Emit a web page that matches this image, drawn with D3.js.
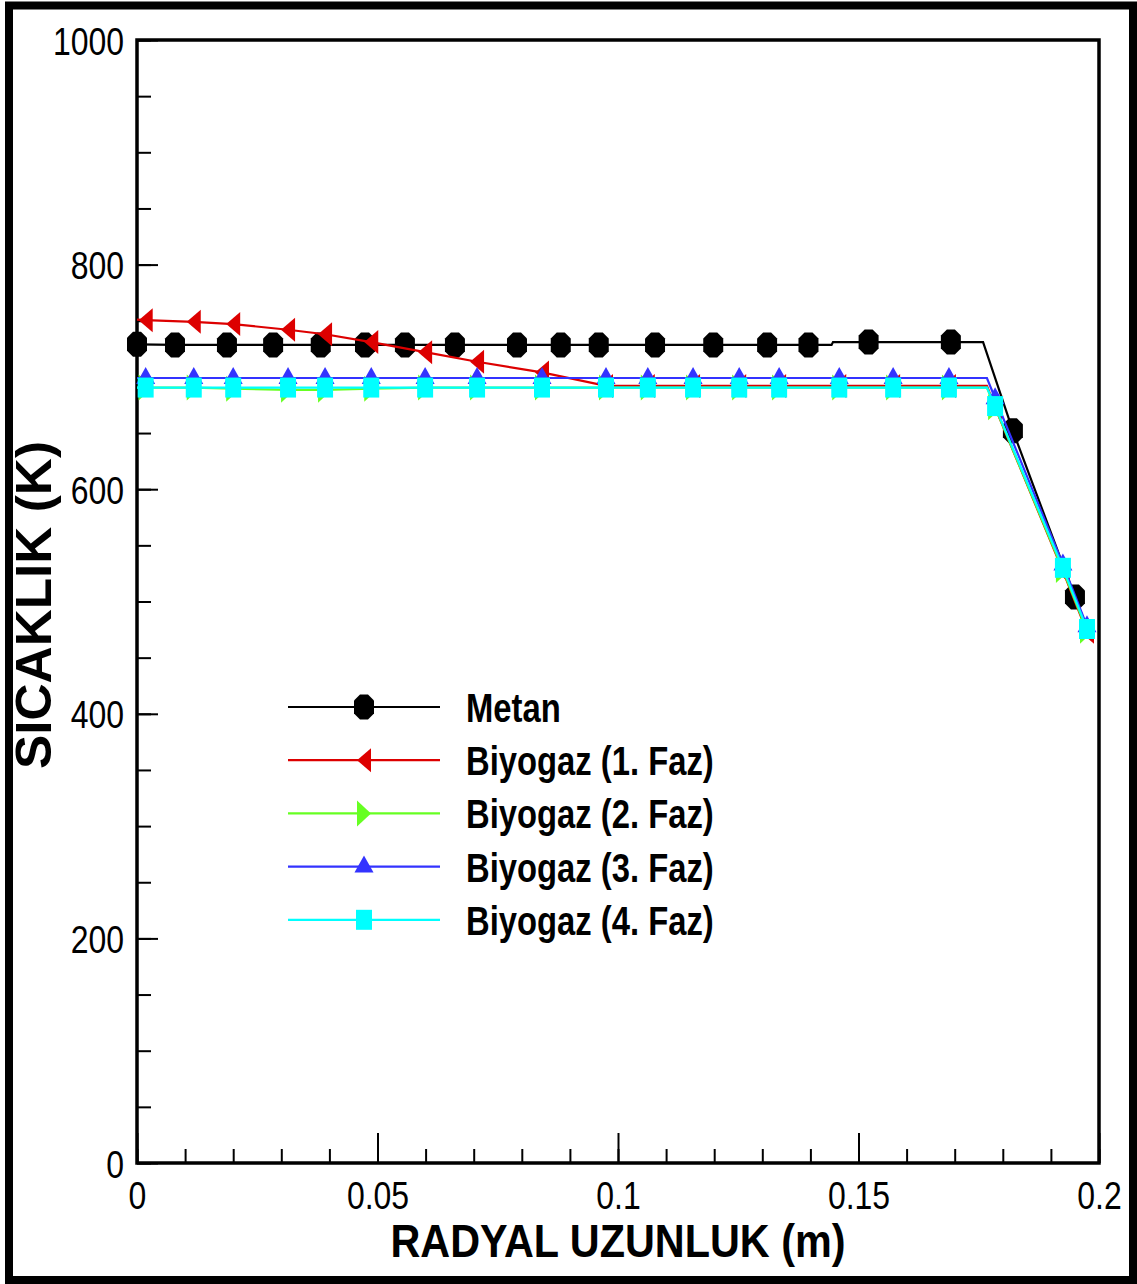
<!DOCTYPE html>
<meta charset="utf-8">
<style>
body { margin: 0; background: #fff; }
.tick text { font-family: "Liberation Sans", Arial, sans-serif; font-size: 39px; fill: #000; }
.tick line { stroke: #000; stroke-width: 2px; }
.legend text { font-family: "Liberation Sans", Arial, sans-serif; font-weight: bold; font-size: 40px; }
.title { font-family: "Liberation Sans", Arial, sans-serif; font-weight: bold; fill: #000; }
</style>
<body>
<script src="https://d3js.org/d3.v7.min.js"></script>
<script>

const width = 1137;
const height = 1284;
const narrow = 0.82; // Tecplot uses a narrow helvetica

// radial position of the biogas samples (m); 0 = line only, 1 = marker shown
const bx    = [0, 0.0018, 0.0118, 0.0200, 0.0314, 0.0391, 0.0487, 0.0599, 0.0707, 0.0842, 0.0975,
               0.1062, 0.1156, 0.1252, 0.1335, 0.1460, 0.1572, 0.1688, 0.1767, 0.1784, 0.1925, 0.1975];
const bMark = [0, 1, 1, 1, 1, 1, 1, 1, 1, 1, 1, 1, 1, 1, 1, 1, 1, 1, 0, 1, 1, 1];

const faz1 = [751, 750.5, 749, 747, 742, 738, 731, 722, 713.5, 704, 692,
              692, 692, 692, 692, 692, 692, 692, 692, 673, 527, 473];
const faz2 = [690.5, 690.5, 690.5, 689.5, 688.5, 688.5, 689.5, 690.5, 690.5, 690.5, 690.5,
              690.5, 690.5, 690.5, 690.5, 690.5, 690.5, 690.5, 690.5, 673, 528, 474];
const faz3 = [699, 699, 699, 699, 699, 699, 699, 699, 699, 699, 699,
              699, 699, 699, 699, 699, 699, 699, 699, 681, 533, 478];
const faz4 = [690.5, 690.5, 690.5, 690.5, 690.5, 690.5, 690.5, 690.5, 690.5, 690.5, 690.5,
              690.5, 690.5, 690.5, 690.5, 690.5, 690.5, 690.5, 690.5, 674, 530, 475.5];

// methane
const mx    = [0, 0.0079, 0.0187, 0.0283, 0.0382, 0.0474, 0.0557, 0.0661, 0.0790, 0.0881, 0.0960,
               0.1077, 0.1198, 0.1310, 0.1396, 0.1444, 0.1447, 0.1521, 0.1692, 0.1759, 0.1821, 0.1950, 0.1977];
const metan = [729, 728.5, 728.5, 728.5, 728.5, 728.5, 728.5, 728.5, 728.5, 728.5, 728.5,
               728.5, 728.5, 728.5, 728.5, 728.5, 731, 731, 731, 731, 652, 504, 474];
const mMark = [1, 1, 1, 1, 1, 1, 1, 1, 1, 1, 1, 1, 1, 1, 1, 0, 0, 1, 1, 0, 1, 1, 0];

const names  = ["Metan", "Biyogaz (1. Faz)", "Biyogaz (2. Faz)", "Biyogaz (3. Faz)", "Biyogaz (4. Faz)"];
const colors = ["#000000", "#dd0000", "#66ff22", "#3333ff", "#00ffff"];
const shapes = ["circle", "left", "right", "up", "square"];

const xTicks = [0, 0.05, 0.1, 0.15, 0.2];
const yTicks = [0, 200, 400, 600, 800, 1000];

const series = [
  { x: mx, y: metan, mark: mMark },
  { x: bx, y: faz1, mark: bMark },
  { x: bx, y: faz2, mark: bMark },
  { x: bx, y: faz3, mark: bMark },
  { x: bx, y: faz4, mark: bMark }
].map((s, i) => ({
  name: names[i], color: colors[i], shape: shapes[i],
  points: s.x.map((v, j) => ({ x: v, y: s.y[j], m: s.mark[j] }))
}));

const svg = d3.select("body").append("svg")
    .attr("width", width)
    .attr("height", height);

svg.append("rect")
    .attr("width", width).attr("height", height)
    .attr("fill", "#fff");

// outer frame
svg.append("rect")
    .attr("x", 9).attr("y", 5.5)
    .attr("width", 1124).attr("height", 1274.5)
    .attr("fill", "none")
    .attr("stroke", "#000")
    .attr("stroke-width", 8);

const x = d3.scaleLinear().domain([0, 0.2]).range([137, 1099]);
const y = d3.scaleLinear().domain([0, 1000]).range([1163, 40]);

// minor ticks
svg.append("g")
    .attr("transform", `translate(0,${y(0)})`)
    .call(d3.axisBottom(x).tickValues(d3.range(0, 0.2001, 0.01)).tickSize(-14).tickFormat(""))
    .call(g => g.select(".domain").remove());
svg.append("g")
    .attr("transform", `translate(${x(0)},0)`)
    .call(d3.axisLeft(y).tickValues(d3.range(0, 1001, 50)).tickSize(-14).tickFormat(""))
    .call(g => g.select(".domain").remove());

// major ticks + labels
svg.append("g")
    .attr("transform", `translate(0,${y(0)})`)
    .call(d3.axisBottom(x).tickValues(xTicks).tickSize(-30).tickFormat(d3.format("")))
    .call(g => g.select(".domain").remove())
    .call(g => g.selectAll(".tick text")
        .attr("y", 46).attr("dy", 0)
        .attr("transform", `scale(${narrow},1)`));
svg.append("g")
    .attr("transform", `translate(${x(0)},0)`)
    .call(d3.axisLeft(y).tickValues(yTicks).tickSize(-21).tickFormat(d3.format("")))
    .call(g => g.select(".domain").remove())
    .call(g => g.selectAll(".tick text")
        .attr("x", -13 / narrow).attr("dy", 14)
        .attr("transform", `scale(${narrow},1)`));

// plot box
svg.append("rect")
    .attr("x", x(0)).attr("y", y(1000))
    .attr("width", x(0.2) - x(0)).attr("height", y(0) - y(1000))
    .attr("fill", "none")
    .attr("stroke", "#000")
    .attr("stroke-width", 3.5);

function shapePath(shape, cx, cy) {
  let pts;
  if (shape === "circle") {
    pts = [[-4, -12.5], [4, -12.5], [10, -6.5], [10, 6.5], [4, 12.5], [-4, 12.5], [-10, 6.5], [-10, -6.5]];
  } else if (shape === "left") {
    pts = [[-7, 0], [7, -12], [7, 12]];
  } else if (shape === "right") {
    pts = [[7, 0], [-7, -13], [-7, 13]];
  } else if (shape === "up") {
    pts = [[0, -11], [9.5, 6], [-9.5, 6]];
  } else {
    pts = [[-8, -10], [8, -10], [8, 10], [-8, 10]];
  }
  return "M" + pts.map(p => [cx + p[0], cy + p[1]].join(",")).join("L") + "Z";
}

const line = d3.line()
    .x(d => x(d.x))
    .y(d => y(d.y));

const plot = svg.append("g");

series.forEach(s => {
  plot.append("path")
      .attr("d", line(s.points))
      .attr("fill", "none")
      .attr("stroke", s.color)
      .attr("stroke-width", 2.2);
  plot.selectAll(null)
      .data(s.points.filter(d => d.m))
    .enter().append("path")
      .attr("d", d => shapePath(s.shape, x(d.x), y(d.y)))
      .attr("fill", s.color);
});

// legend
const legend = svg.append("g").attr("class", "legend");
series.forEach((s, i) => {
  const ly = 707 + i * 53.2;
  legend.append("line")
      .attr("x1", 288).attr("x2", 440)
      .attr("y1", ly).attr("y2", ly)
      .attr("stroke", s.color)
      .attr("stroke-width", 2.2);
  legend.append("path")
      .attr("d", shapePath(s.shape, 364, ly))
      .attr("fill", s.color);
  legend.append("text")
      .attr("transform", `translate(466,${ly + 15}) scale(${narrow},1)`)
      .text(s.name);
});

// axis titles
svg.append("text")
    .attr("class", "title")
    .attr("x", 618).attr("y", 1257)
    .attr("text-anchor", "middle")
    .attr("textLength", 455)
    .attr("lengthAdjust", "spacingAndGlyphs")
    .style("font-size", "47px")
    .text("RADYAL UZUNLUK (m)");

svg.append("text")
    .attr("class", "title")
    .attr("transform", "translate(51,605) rotate(-90)")
    .attr("text-anchor", "middle")
    .attr("textLength", 328)
    .attr("lengthAdjust", "spacingAndGlyphs")
    .style("font-size", "50px")
    .text("SICAKLIK (K)");

</script>
</body>
